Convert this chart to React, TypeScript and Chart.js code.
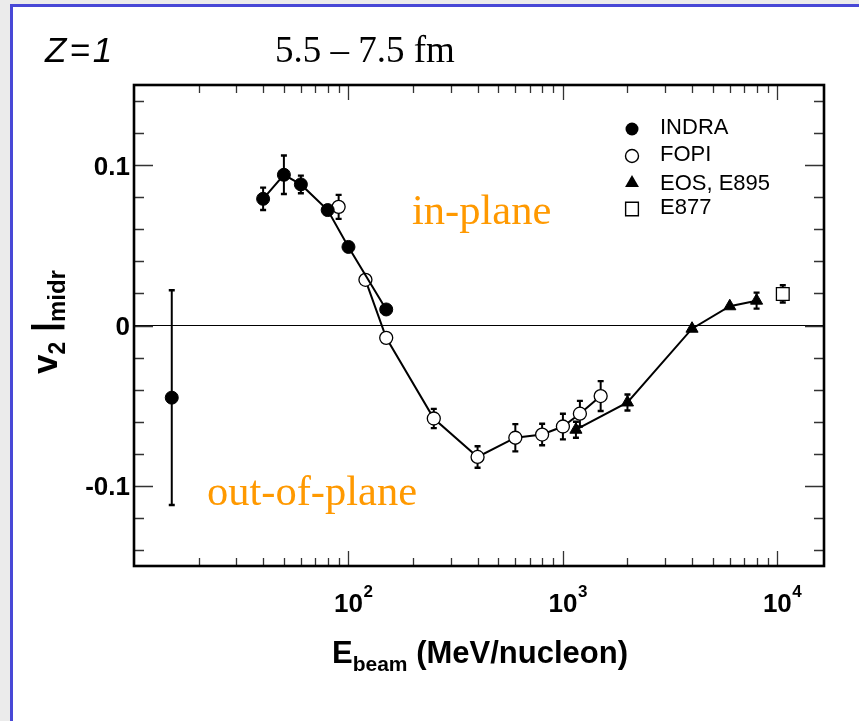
import React, { useEffect, useRef } from 'react';
import { Chart, registerables } from 'chart.js';

Chart.register(...registerables);

// Beam energy (MeV/nucleon), elliptic flow v2 at mid-rapidity and its uncertainty
const indraE = [15, 40, 50, 60, 80, 100, 150];
const indraV = [-0.045, 0.079, 0.094, 0.088, 0.072, 0.049, 0.01];
const indraErr = [0.067, 0.007, 0.012, 0.0055, 0, 0, 0];

const fopiE = [90, 120, 150, 250, 400, 600, 800, 1000, 1200, 1500];
const fopiV = [0.074, 0.0285, -0.0077, -0.058, -0.082, -0.07, -0.068, -0.063, -0.055, -0.044];
const fopiErr = [0.0075, 0, 0, 0.006, 0.0067, 0.0085, 0.0067, 0.008, 0.008, 0.0093];

const eosE = [1150, 2000, 4000, 6000, 8000];
const eosV = [-0.065, -0.048, -0.002, 0.012, 0.0155];
const eosErr = [0.005, 0.005, 0, 0, 0.005];

const e877E = [10600];
const e877V = [0.0197];
const e877Err = [0.0054];

const legendLabels = ['INDRA', 'FOPI', 'EOS, E895', 'E877'];
const yTickLabels = [0.1, 0, -0.1];
const xDecades = [2, 3, 4];

const X_MIN = 10;
const X_MAX = 16500;
const Y_MIN = -0.15;
const Y_MAX = 0.15;

const ORANGE = '#ff9900';
const SANS = '"Liberation Sans", Arial, Helvetica, sans-serif';
const SERIF = '"Liberation Serif", "Times New Roman", serif';

type Seg = { t: string; font: string; dy?: number };

function drawRich(ctx: CanvasRenderingContext2D, segs: Seg[], cx: number, cy: number, rot = 0) {
  ctx.save();
  ctx.translate(cx, cy);
  ctx.rotate(rot);
  ctx.textBaseline = 'alphabetic';
  ctx.textAlign = 'left';
  const widths = segs.map((s) => {
    ctx.font = s.font;
    return ctx.measureText(s.t).width;
  });
  const total = widths.reduce((a, b) => a + b, 0);
  let x = -total / 2;
  segs.forEach((s, i) => {
    ctx.font = s.font;
    ctx.fillText(s.t, x, s.dy || 0);
    x += widths[i];
  });
  ctx.restore();
}

function marker(ctx: CanvasRenderingContext2D, kind: string, x: number, y: number, r: number) {
  ctx.save();
  ctx.lineWidth = 1.4;
  ctx.strokeStyle = '#000';
  ctx.beginPath();
  if (kind === 'filled') {
    ctx.arc(x, y, r, 0, Math.PI * 2);
    ctx.fillStyle = '#000';
    ctx.fill();
  } else if (kind === 'open') {
    ctx.arc(x, y, r, 0, Math.PI * 2);
    ctx.fillStyle = '#fff';
    ctx.fill();
    ctx.stroke();
  } else if (kind === 'tri') {
    ctx.moveTo(x, y - r);
    ctx.lineTo(x + r * 0.866, y + r * 0.5);
    ctx.lineTo(x - r * 0.866, y + r * 0.5);
    ctx.closePath();
    ctx.fillStyle = '#000';
    ctx.fill();
  } else {
    ctx.rect(x - r * 0.75, y - r * 0.8, r * 1.5, r * 1.6);
    ctx.fillStyle = '#fff';
    ctx.fill();
    ctx.stroke();
  }
  ctx.restore();
}

const errorBars = {
  id: 'errorBars',
  beforeDatasetsDraw(chart: any) {
    const { ctx } = chart;
    const x = chart.scales.x;
    const y = chart.scales.y;
    const area = chart.chartArea;
    // horizontal reference line at v2 = 0
    ctx.save();
    ctx.strokeStyle = '#000';
    ctx.lineWidth = 1.2;
    ctx.beginPath();
    ctx.moveTo(area.left, y.getPixelForValue(0));
    ctx.lineTo(area.right, y.getPixelForValue(0));
    ctx.stroke();
    ctx.restore();

    chart.data.datasets.forEach((ds: any) => {
      const errs: number[] = ds.errors || [];
      ds.data.forEach((p: any, i: number) => {
        const e = errs[i];
        if (!e) return;
        const px = x.getPixelForValue(p.x);
        const top = y.getPixelForValue(p.y + e);
        const bot = y.getPixelForValue(p.y - e);
        ctx.save();
        ctx.strokeStyle = '#000';
        ctx.lineWidth = 2;
        ctx.beginPath();
        ctx.moveTo(px, top);
        ctx.lineTo(px, bot);
        ctx.stroke();
        ctx.lineWidth = 2.4;
        ctx.beginPath();
        ctx.moveTo(px - 3, top);
        ctx.lineTo(px + 3, top);
        ctx.moveTo(px - 3, bot);
        ctx.lineTo(px + 3, bot);
        ctx.stroke();
        ctx.restore();
      });
    });
  },
};

const frameAndText = {
  id: 'frameAndText',
  afterDraw(chart: any) {
    const { ctx } = chart;
    const xs = chart.scales.x;
    const ys = chart.scales.y;
    const a = chart.chartArea;

    // tick marks on all four sides
    ctx.save();
    ctx.strokeStyle = '#333';
    ctx.lineWidth = 1.3;
    ctx.beginPath();
    for (let k = -7; k <= 7; k++) {
      const v = k * 0.02;
      const py = Math.round(ys.getPixelForValue(v)) + 0.5;
      const major = Math.abs(k % 5) === 0;
      const len = major ? 19 : 10;
      ctx.moveTo(a.left, py);
      ctx.lineTo(a.left + len, py);
      ctx.moveTo(a.right, py);
      ctx.lineTo(a.right - len, py);
    }
    for (let d = 1; d <= 4; d++) {
      for (let m = 1; m <= 9; m++) {
        const v = m * Math.pow(10, d);
        if (v <= X_MIN || v >= X_MAX) continue;
        const px = Math.round(xs.getPixelForValue(v)) + 0.5;
        const len = m === 1 ? 15 : 8;
        ctx.moveTo(px, a.bottom);
        ctx.lineTo(px, a.bottom - len);
        ctx.moveTo(px, a.top);
        ctx.lineTo(px, a.top + len);
      }
    }
    ctx.stroke();
    ctx.restore();

    // frame
    ctx.save();
    ctx.strokeStyle = '#000';
    ctx.lineWidth = 2.6;
    ctx.strokeRect(a.left, a.top, a.right - a.left, a.bottom - a.top);
    ctx.restore();

    ctx.save();
    ctx.fillStyle = '#000';

    // y tick labels
    ctx.font = `bold 26px ${SANS}`;
    ctx.textAlign = 'right';
    ctx.textBaseline = 'alphabetic';
    yTickLabels.forEach((v) => {
      const py = ys.getPixelForValue(v);
      ctx.fillText(String(v), 130, py + 9.5);
    });

    // x tick labels: 10^n
    xDecades.forEach((n) => {
      const px = xs.getPixelForValue(Math.pow(10, n));
      ctx.font = `bold 26px ${SANS}`;
      ctx.textAlign = 'center';
      ctx.fillText('10', px, 612);
      ctx.font = `bold 17px ${SANS}`;
      ctx.textAlign = 'left';
      ctx.fillText(String(n), px + 15, 597);
    });

    // axis titles
    drawRich(
      ctx,
      [
        { t: 'E', font: `bold 31px ${SANS}` },
        { t: 'beam', font: `bold 21px ${SANS}`, dy: 8 },
        { t: ' (MeV/nucleon)', font: `bold 31px ${SANS}` },
      ],
      480,
      663,
    );
    drawRich(
      ctx,
      [
        { t: 'v', font: `bold 35px ${SANS}` },
        { t: '2', font: `bold 23px ${SANS}`, dy: 8 },
        { t: ' |', font: `bold 35px ${SANS}` },
        { t: 'midr', font: `bold 24px ${SANS}`, dy: 8 },
      ],
      57,
      322,
      -Math.PI / 2,
    );

    // header texts
    ctx.textAlign = 'left';
    ctx.font = `italic 35px ${SANS}`;
    (ctx as any).letterSpacing = '3px';
    ctx.fillText('Z=1', 45, 62);
    (ctx as any).letterSpacing = '0px';
    ctx.font = `37px ${SERIF}`;
    ctx.fillText('5.5 \u2013 7.5 fm', 275, 62);

    // region labels
    ctx.fillStyle = ORANGE;
    ctx.font = `42.5px ${SERIF}`;
    ctx.fillText('in-plane', 412, 224);
    ctx.fillText('out-of-plane', 207, 505);

    // legend
    ctx.fillStyle = '#000';
    ctx.font = `22px ${SANS}`;
    const kinds = ['filled', 'open', 'tri', 'square'];
    const rows = [129, 156, 183, 209];
    const bases = [134, 161, 190, 214];
    const sizes = [6.5, 6.5, 8, 8.5];
    legendLabels.forEach((lab, i) => {
      marker(ctx, kinds[i], 632, rows[i], sizes[i]);
      ctx.fillStyle = '#000';
      ctx.fillText(lab, 660, bases[i]);
    });
    ctx.restore();
  },
};

const hideFirstSegment = (ctx: any) => (ctx.p0DataIndex === 0 ? 'rgba(0,0,0,0)' : '#000');

export default function App() {
  const ref = useRef<HTMLCanvasElement | null>(null);

  useEffect(() => {
    if (!ref.current) return;
    const pts = (xs: number[], vs: number[]) => xs.map((x, i) => ({ x, y: vs[i] }));
    const chart = new Chart(ref.current, {
      type: 'line',
      data: {
        datasets: [
          {
            label: 'INDRA',
            data: pts(indraE, indraV),
            errors: indraErr,
            borderColor: '#000',
            borderWidth: 2,
            pointStyle: 'circle',
            pointRadius: 6.5,
            pointBackgroundColor: '#000',
            pointBorderColor: '#000',
            pointBorderWidth: 1,
            segment: { borderColor: hideFirstSegment },
          } as any,
          {
            label: 'FOPI',
            data: pts(fopiE, fopiV),
            errors: fopiErr,
            borderColor: '#000',
            borderWidth: 2,
            pointStyle: 'circle',
            pointRadius: 6.5,
            pointBackgroundColor: '#fff',
            pointBorderColor: '#000',
            pointBorderWidth: 1.3,
            segment: { borderColor: hideFirstSegment },
          } as any,
          {
            label: 'EOS, E895',
            data: pts(eosE, eosV),
            errors: eosErr,
            borderColor: '#000',
            borderWidth: 2,
            pointStyle: 'triangle',
            pointRadius: 7,
            pointBackgroundColor: '#000',
            pointBorderColor: '#000',
            pointBorderWidth: 1,
          } as any,
          {
            label: 'E877',
            data: pts(e877E, e877V),
            errors: e877Err,
            showLine: false,
            pointStyle: 'rect',
            pointRadius: 9,
            pointBackgroundColor: '#fff',
            pointBorderColor: '#000',
            pointBorderWidth: 1.3,
          } as any,
        ],
      },
      options: {
        responsive: false,
        animation: false,
        devicePixelRatio: 1,
        events: [],
        layout: { padding: { left: 134, top: 85, right: 35, bottom: 155 } },
        elements: { line: { tension: 0 } },
        plugins: {
          legend: { display: false },
          tooltip: { enabled: false },
          title: { display: false },
        },
        scales: {
          x: { type: 'logarithmic', min: X_MIN, max: X_MAX, display: false },
          y: { type: 'linear', min: Y_MIN, max: Y_MAX, display: false },
        },
      },
      plugins: [errorBars, frameAndText],
    });
    return () => chart.destroy();
  }, []);

  return (
    <div style={{ position: 'fixed', inset: 0, background: '#ebebeb', overflow: 'hidden' }}>
      <div
        style={{
          position: 'absolute',
          left: 10,
          top: 4,
          right: -20,
          bottom: -20,
          background: '#fff',
          borderLeft: '3px solid #4848d6',
          borderTop: '3px solid #4848d6',
        }}
      />
      <canvas
        ref={ref}
        width={859}
        height={721}
        style={{ position: 'absolute', left: 0, top: 0, width: 859, height: 721 }}
      />
    </div>
  );
}
